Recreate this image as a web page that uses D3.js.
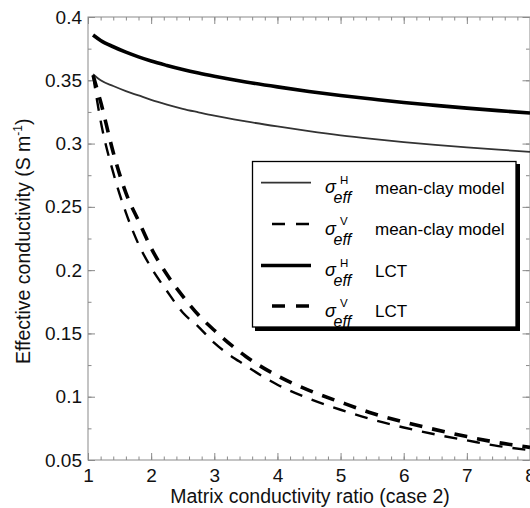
<!DOCTYPE html>
<html>
<head>
<meta charset="utf-8">
<script src="https://cdn.jsdelivr.net/npm/d3@7/dist/d3.min.js"></script>
<style>
html,body{margin:0;padding:0;background:#fff;}
svg{display:block;font-family:"Liberation Sans",Arial,Helvetica,sans-serif;}
</style>
</head>
<body>
<svg id="chart" width="530" height="508"></svg>
<script>
// ---- data ----
const ratio      = [1.08, 1.2, 1.4, 1.6, 1.8, 2, 2.25, 2.5, 2.75, 3, 3.5, 4, 4.5, 5, 5.5, 6, 6.5, 7, 7.5, 8];
const meanClayH  = [0.3548, 0.350, 0.3455, 0.3415, 0.338, 0.3345, 0.3308, 0.3275, 0.3247, 0.322, 0.3175, 0.3135, 0.3098, 0.3065, 0.3037, 0.3012, 0.299, 0.297, 0.2952, 0.2935];
const meanClayV  = [0.354, 0.318, 0.277, 0.2455, 0.2205, 0.202, 0.1835, 0.1665, 0.1552, 0.1425, 0.1245, 0.1095, 0.0985, 0.0897, 0.082, 0.0757, 0.0702, 0.0655, 0.061, 0.0578];
const lctH       = [0.3858, 0.3815, 0.3765, 0.3722, 0.3685, 0.3652, 0.3617, 0.3585, 0.3557, 0.3532, 0.3487, 0.3448, 0.3412, 0.338, 0.3352, 0.3325, 0.3302, 0.328, 0.326, 0.3242];
const lctV       = [0.354, 0.333, 0.293, 0.261, 0.239, 0.2175, 0.1965, 0.1795, 0.1645, 0.1525, 0.1318, 0.1165, 0.105, 0.0957, 0.087, 0.080, 0.074, 0.0685, 0.0637, 0.060];
const xTicks     = [1, 2, 3, 4, 5, 6, 7, 8];
const yTicks     = [0.05, 0.1, 0.15, 0.2, 0.25, 0.3, 0.35, 0.4];
const yTickLabels= ["0.05", "0.1", "0.15", "0.2", "0.25", "0.3", "0.35", "0.4"];
const legendSup  = ["H", "V", "H", "V"];
const legendText = ["mean-clay model", "mean-clay model", "LCT", "LCT"];
const xLabel = "Matrix conductivity ratio (case 2)";
const yLabel = "Effective conductivity (S m";

// ---- layout ----
const svg = d3.select("#chart");
const L = 88, R = 530, T = 17, B = 460;
const x = d3.scaleLinear().domain([1, 8]).range([L, R]);
const y = d3.scaleLinear().domain([0.05, 0.4]).range([B, T]);
const axisCol = "#8a8a8a";

const seriesList = [
  {vals: meanClayH, color: "#333", width: 1.8, dash: null},
  {vals: meanClayV, color: "#000", width: 2.4, dash: "13,10"},
  {vals: lctH,      color: "#000", width: 3.6, dash: null},
  {vals: lctV,      color: "#000", width: 3.6, dash: "13,10"}
];

// frame
svg.append("rect").attr("x", L).attr("y", T).attr("width", R - L).attr("height", B - T)
  .attr("fill", "none").attr("stroke", axisCol).attr("stroke-width", 1);

const minorX = d3.range(1, 8.001, 0.2);
const minorY = d3.range(0.05, 0.4001, 0.025);

function styleAxis(g) {
  g.select(".domain").remove();
  g.selectAll(".tick line").attr("stroke", axisCol).attr("stroke-width", 1);
  g.selectAll(".tick text").attr("fill", "#111").attr("font-size", 19)
    .attr("font-family", "Liberation Sans, Arial, sans-serif");
}

// bottom
svg.append("g").attr("transform", `translate(0,${B})`)
  .call(d3.axisBottom(x).tickValues(minorX).tickSize(-3.5).tickFormat("")).call(styleAxis);
svg.append("g").attr("transform", `translate(0,${B})`)
  .call(d3.axisBottom(x).tickValues(xTicks).tickSize(-7).tickPadding(8.5).tickFormat(d3.format("d"))).call(styleAxis);
// top
svg.append("g").attr("transform", `translate(0,${T})`)
  .call(d3.axisTop(x).tickValues(minorX).tickSize(-3.5).tickFormat("")).call(styleAxis);
svg.append("g").attr("transform", `translate(0,${T})`)
  .call(d3.axisTop(x).tickValues(xTicks).tickSize(-7).tickFormat("")).call(styleAxis);
// left
svg.append("g").attr("transform", `translate(${L},0)`)
  .call(d3.axisLeft(y).tickValues(minorY).tickSize(-3.5).tickFormat("")).call(styleAxis);
svg.append("g").attr("transform", `translate(${L},0)`)
  .call(d3.axisLeft(y).tickValues(yTicks).tickSize(-7).tickPadding(6)
    .tickFormat((d, i) => yTickLabels[i])).call(styleAxis);
// right
svg.append("g").attr("transform", `translate(${R - 0.5},0)`)
  .call(d3.axisRight(y).tickValues(minorY).tickSize(-3.5).tickFormat("")).call(styleAxis);
svg.append("g").attr("transform", `translate(${R - 0.5},0)`)
  .call(d3.axisRight(y).tickValues(yTicks).tickSize(-7).tickFormat("")).call(styleAxis);

// curves
const line = d3.line().x((d, i) => x(ratio[i])).y(d => y(d)).curve(d3.curveMonotoneX);
seriesList.forEach(s => {
  svg.append("path").datum(s.vals).attr("d", line)
    .attr("fill", "none").attr("stroke", s.color).attr("stroke-width", s.width)
    .attr("stroke-dasharray", s.dash).attr("stroke-linejoin", "round");
});

// legend
const lg = svg.append("g");
lg.append("rect").attr("x", 255).attr("y", 164).attr("width", 265).attr("height", 167).attr("fill", "#000");
lg.append("rect").attr("x", 252.5).attr("y", 161.5).attr("width", 263.5).attr("height", 165.5)
  .attr("fill", "#fff").attr("stroke", "#000").attr("stroke-width", 1.3);
const rowY = [182.7, 224, 265.5, 306];
seriesList.forEach((s, i) => {
  const ly = rowY[i];
  if (s.dash) {
    lg.append("line").attr("x1", 272).attr("x2", 309).attr("y1", ly).attr("y2", ly)
      .attr("stroke", s.color).attr("stroke-width", s.width).attr("stroke-dasharray", "13,11");
  } else {
    lg.append("line").attr("x1", 261).attr("x2", 311).attr("y1", ly).attr("y2", ly)
      .attr("stroke", s.color).attr("stroke-width", s.width);
  }
  lg.append("text").attr("x", 325).attr("y", ly + 10.5).attr("font-size", 18)
    .attr("font-style", "italic").text("σ");
  lg.append("text").attr("x", 340).attr("y", ly + 1).attr("font-size", 11.5).text(legendSup[i]);
  lg.append("text").attr("x", 333.5).attr("y", ly + 20.5).attr("font-size", 16)
    .attr("font-style", "italic").text("eff");
  lg.append("text").attr("x", 375).attr("y", ly + 11).attr("font-size", 17).text(legendText[i]);
});

// axis labels
svg.append("text").attr("x", (168 + 452) / 2).attr("y", 503).attr("text-anchor", "middle")
  .attr("font-size", 19.5).attr("fill", "#111").text(xLabel);
const yl = svg.append("text").attr("transform", "translate(30,364) rotate(-90)")
  .attr("text-anchor", "start").attr("font-size", 19.5).attr("fill", "#111");
yl.append("tspan").text(yLabel);
yl.append("tspan").attr("font-size", 12).attr("dy", -8).text("-1");
yl.append("tspan").attr("dy", 8).text(")");
</script>
</body>
</html>
